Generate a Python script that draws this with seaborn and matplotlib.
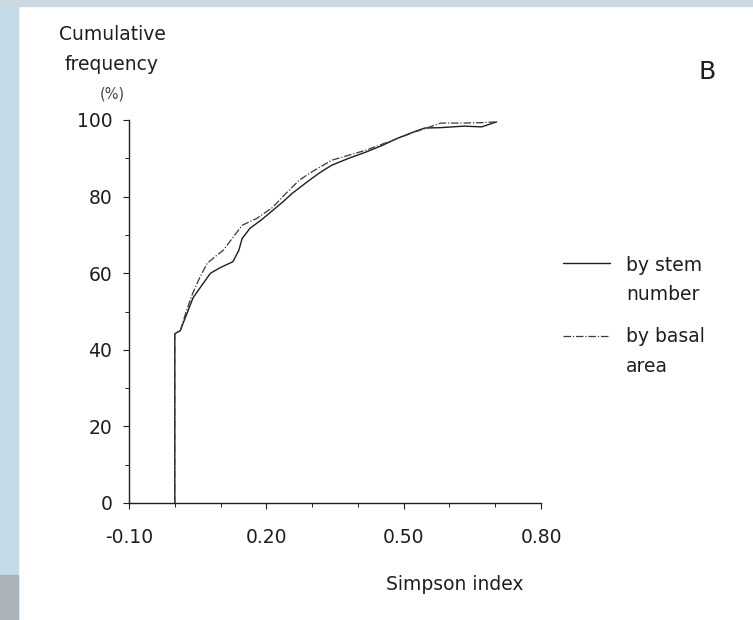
import matplotlib
matplotlib.use("Agg")
import pandas as pd
import seaborn as sns
import matplotlib.pyplot as plt
from matplotlib.patches import Rectangle
from matplotlib.lines import Line2D

# Values
stem_x = [0.0, 0.0, 0.012, 0.025, 0.04, 0.06, 0.078, 0.10, 0.127, 0.14, 0.147, 0.164,
          0.19, 0.214, 0.235, 0.257, 0.28, 0.30, 0.32, 0.343, 0.38, 0.417, 0.45,
          0.488, 0.52, 0.546, 0.58, 0.632, 0.67, 0.703]
stem_y = [0.0, 44.2, 45.0, 49.0, 53.6, 57.0, 60.0, 61.5, 63.0, 66.0, 69.0, 71.7,
          74.0, 76.4, 78.5, 80.9, 83.0, 84.8, 86.5, 88.2, 90.0, 91.6, 93.2,
          95.3, 96.8, 97.9, 98.0, 98.4, 98.2, 99.5]

basal_x = [0.0, 0.0, 0.012, 0.025, 0.039, 0.055, 0.071, 0.09, 0.106, 0.125, 0.147, 0.179,
           0.214, 0.24, 0.272, 0.30, 0.343, 0.38, 0.417, 0.46, 0.525, 0.56, 0.581,
           0.63, 0.67, 0.70]
basal_y = [0.0, 44.2, 45.0, 50.0, 54.7, 59.0, 62.6, 64.5, 66.0, 69.0, 72.5, 74.3,
           77.2, 80.5, 84.3, 86.5, 89.5, 90.8, 92.1, 94.0, 96.9, 98.3, 99.2,
           99.2, 99.3, 99.5]

x_ticks = [-0.10, 0.20, 0.50, 0.80]
y_ticks = [0, 20, 40, 60, 80, 100]

stem = pd.DataFrame({"x": stem_x, "y": stem_y})
basal = pd.DataFrame({"x": basal_x, "y": basal_y})

sns.set_style("white")
plt.rcParams['font.family'] = ['DejaVu Sans']
ink = "#1e1e1e"
dashdot = (0, (6, 1.5, 1, 1.5))

W, H = 753, 620
fig = plt.figure(figsize=(7.53, 6.2), dpi=100)


def fx(px):
    return px / W


def fy(py):
    return 1 - py / H


# scanned page edges
fig.patches.append(Rectangle((0, 0), 18 / W, 1, transform=fig.transFigure,
                             color="#c6dbea", zorder=0))
fig.patches.append(Rectangle((0, 0), 18 / W, 45 / H, transform=fig.transFigure,
                             color="#a9b3b8", zorder=0))
fig.patches.append(Rectangle((0, fy(6)), 1, 6 / H, transform=fig.transFigure,
                             color="#cdd9e2", zorder=0))

ax = fig.add_axes([fx(129), fy(503), 412 / W, 383 / H])
sns.lineplot(data=stem, x="x", y="y", ax=ax, color=ink, lw=1.0,
             sort=False, estimator=None, legend=False)
sns.lineplot(data=basal, x="x", y="y", ax=ax, color="#3a3a3a", lw=0.9,
             sort=False, estimator=None, linestyle=dashdot, legend=False)

ax.set_xlim(-0.1, 0.8)
ax.set_ylim(0, 100)
ax.set_xticks(x_ticks)
ax.set_xticklabels([f"{v:.2f}" for v in x_ticks])
ax.set_xticks([-0.1 + 0.1 * i for i in range(10)], minor=True)
ax.set_yticks(y_ticks)
ax.set_yticks(range(0, 101, 10), minor=True)
ax.tick_params(axis="both", which="major", length=4, width=0.8, labelsize=13.5,
               colors=ink, direction="out")
ax.tick_params(axis="x", which="major", pad=14)
ax.tick_params(axis="y", which="major", pad=8)
ax.tick_params(axis="both", which="minor", length=3, width=0.7, direction="out",
               colors=ink)
ax.tick_params(axis="both", which="both", bottom=True, left=True)
for s in ["top", "right"]:
    ax.spines[s].set_visible(False)
for s in ["left", "bottom"]:
    ax.spines[s].set_color(ink)
    ax.spines[s].set_linewidth(1.0)
ax.set_xlabel("")
ax.set_ylabel("")

fig.text(fx(455), fy(585), "Simpson index", ha="center", va="center",
         fontsize=13.5, color=ink)

fig.text(fx(112), fy(35), "Cumulative", ha="center", va="center",
         fontsize=13.5, color=ink)
fig.text(fx(112), fy(64), "frequency", ha="center", va="center",
         fontsize=13.5, color=ink)
fig.text(fx(112), fy(94), "(%)", ha="center", va="center",
         fontsize=10.5, color="#444444")
fig.text(fx(707), fy(72), "B", ha="center", va="center",
         fontsize=18, color=ink)

# legend
fig.add_artist(Line2D([fx(563), fx(610)], [fy(263), fy(263)], color=ink, lw=1.0))
fig.add_artist(Line2D([fx(563), fx(610)], [fy(336), fy(336)], color="#3a3a3a",
                      lw=0.9, linestyle=dashdot))
for txt, py in [("by stem", 265), ("number", 295), ("by basal", 337), ("area", 367)]:
    fig.text(fx(626), fy(py), txt, ha="left", va="center", fontsize=13.5, color=ink)

fig.savefig("out.png", dpi=100)
